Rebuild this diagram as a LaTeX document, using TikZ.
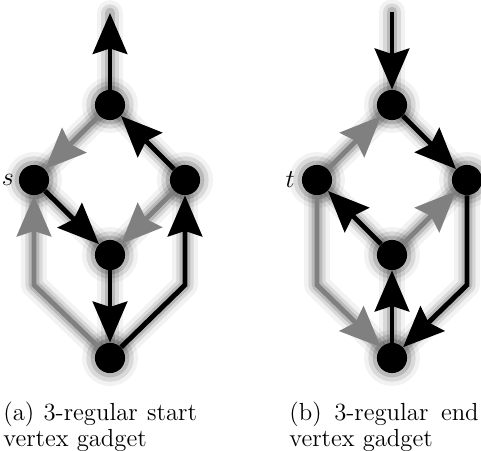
\documentclass[tikz,border=0pt]{standalone}
\usetikzlibrary{arrows.meta, positioning}

\begin{document}
\begin{tikzpicture}[x=0.465pt, y=-0.465pt,
    dot/.style={circle, fill=black, minimum size=14pt, inner sep=0pt,
        preaction={draw=black, draw opacity=0.05, line width=12pt},
        preaction={draw=black, draw opacity=0.1, line width=8pt},
        preaction={draw=black, draw opacity=0.15, line width=4pt}},
    link/.style={-{Stealth[length=19pt, width=16pt, inset=2.5pt]}, line width=2.3pt,
        preaction={draw=black, draw opacity=0.05, line width=12pt, line cap=round, line join=round, -},
        preaction={draw=black, draw opacity=0.1, line width=8pt, line cap=round, line join=round, -},
        preaction={draw=black, draw opacity=0.15, line width=5pt, line cap=round, line join=round, -}},
    blk/.style={link, draw=black},
    gry/.style={link, draw=black!50},
    lab/.style={inner sep=0pt, font=\fontsize{11.5}{11.5}\selectfont},
    captxt/.style={anchor=north west, inner sep=0pt, align=justify, font=\fontsize{11.5}{10.5}\selectfont}
]
\useasboundingbox (0,0) rectangle (481,451);

% (a) start gadget
\node[dot] (atop) at (110,105) {};
\node[dot] (s)    at (34,180)  {};
\node[dot] (ar)   at (185,180) {};
\node[dot] (amid) at (110,255) {};
\node[dot] (abot) at (110,358) {};
\coordinate (aout) at (110,13);
\coordinate (abl)  at (34,285);
\coordinate (abr)  at (185,285);
\node[lab, left=2pt of s] (slab) {$s$};

\draw[blk] (atop) -- (aout);
\draw[gry] (atop) -- (s);
\draw[blk] (s) -- (amid);
\draw[gry] (ar) -- (amid);
\draw[blk] (ar) -- (atop);
\draw[blk] (amid) -- (abot);
\draw[gry] (abot) -- (abl) -- (s);
\draw[blk] (abot) -- (abr) -- (ar);

% (b) end gadget
\node[dot] (btop) at (392,105) {};
\node[dot] (t)    at (317,180) {};
\node[dot] (br)   at (467,180) {};
\node[dot] (bmid) at (392,255) {};
\node[dot] (bbot) at (392,358) {};
\coordinate (bin) at (392,12);
\coordinate (bbl) at (317,285);
\coordinate (bbr) at (467,285);
\node[lab, left=3pt of t] (tlab) {$t$};

\draw[blk] (bin) -- (btop);
\draw[gry] (t) -- (btop);
\draw[blk] (btop) -- (br);
\draw[blk] (bmid) -- (t);
\draw[gry] (bmid) -- (br);
\draw[blk] (bbot) -- (bmid);
\draw[gry] (t) -- (bbl) -- (bbot);
\draw[blk] (br) -- (bbr) -- (bbot);

% captions
\node[captxt, text width=90pt] (capa) at (3,402) {(a)\hfill 3-regular\hfill start\\vertex gadget};
\node[captxt, text width=88pt] (capb) at (289,402) {(b)\hfill 3-regular\hfill end\\vertex gadget};
\end{tikzpicture}
\end{document}
